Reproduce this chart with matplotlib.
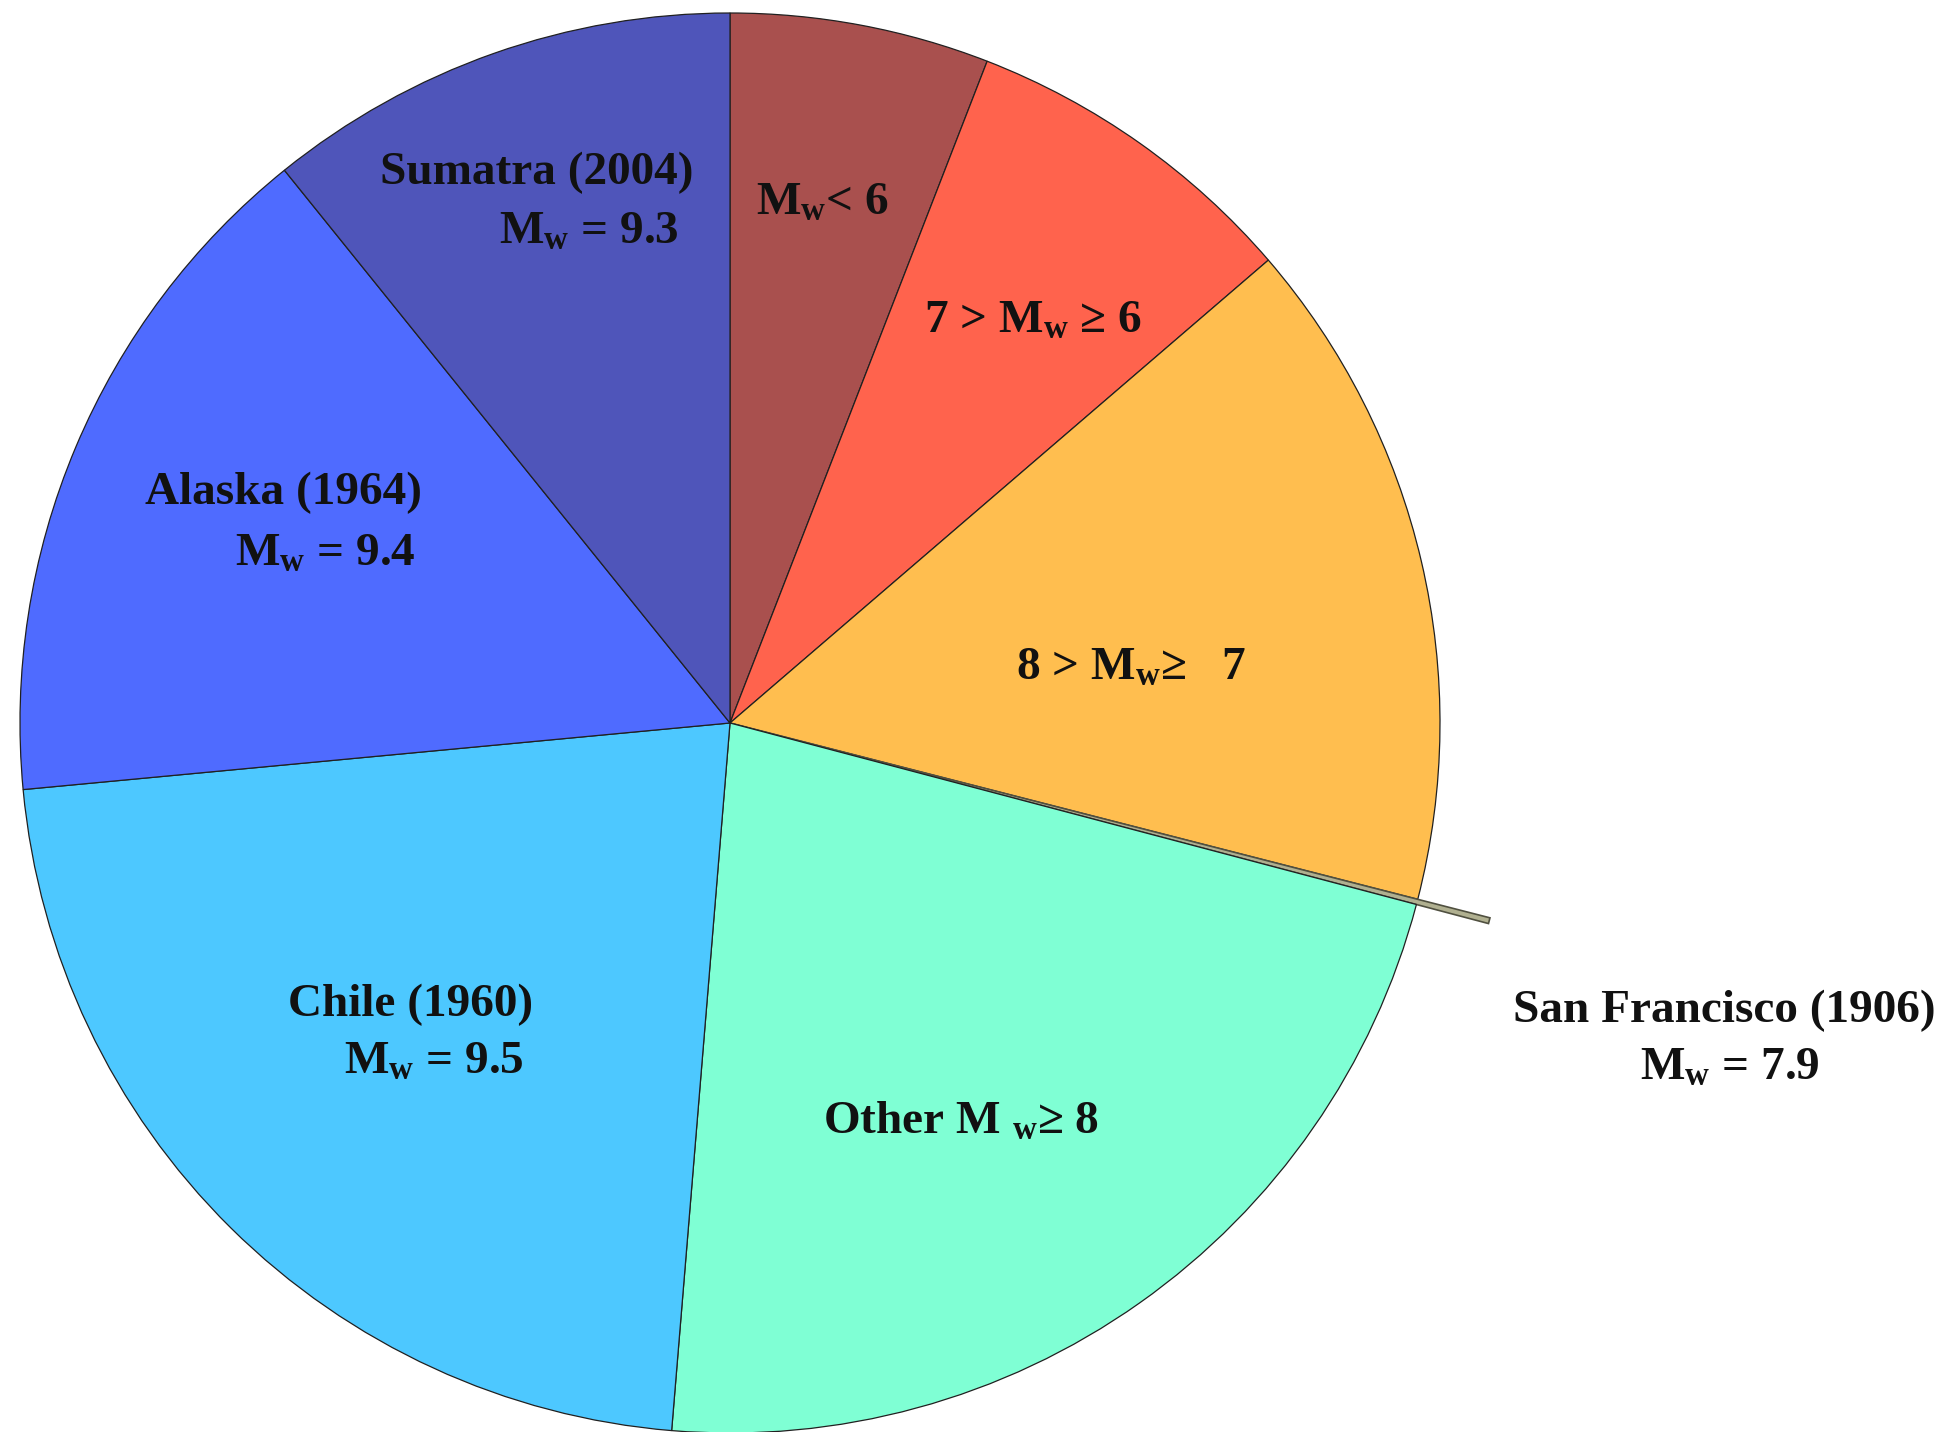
import matplotlib
matplotlib.use("Agg")
import matplotlib.pyplot as plt

plt.rcParams['font.family'] = ['Liberation Serif', 'DejaVu Serif']
plt.rcParams['font.weight'] = 'bold'
plt.rcParams['mathtext.fontset'] = 'custom'
plt.rcParams['mathtext.rm'] = 'Liberation Serif:bold'
plt.rcParams['mathtext.bf'] = 'Liberation Serif:bold'
plt.rcParams['mathtext.it'] = 'Liberation Serif:bold'

# share of seismic moment (percent), clockwise from 12 o'clock
labels = ["Mw<6", "7>Mw>=6", "8>Mw>=7", "San Francisco (1906)",
          "Other Mw>=8", "Chile (1960)", "Alaska (1964)", "Sumatra (2004)"]
shares = [5.9, 7.8, 15.3, 0.12, 22.2, 22.2, 15.7, 10.8]
colors = ["#A9504E", "#FF634D", "#FFBE4F", "#B0B090",
          "#7FFFD4", "#4DC8FF", "#4F6BFF", "#4F55BA"]

W, H = 1952, 1432
cx, cy, R = 730, 723, 710

fig = plt.figure(figsize=(W / 100, H / 100), dpi=100)
ax = fig.add_axes([0, 0, 1, 1])

wedges, _ = ax.pie(shares, colors=colors, startangle=90, counterclock=False,
                   radius=1.0, wedgeprops=dict(edgecolor='#202020', linewidth=0.9))
# the San Francisco sliver pokes out past the rim
wedges[3].set_radius(1.105)
wedges[3].set_edgecolor('#505040')
wedges[3].set_linewidth(1.2)

ax.set_xlim(-cx / R, (W - cx) / R)
ax.set_ylim(-(H - cy) / R, cy / R)
ax.set_aspect('equal')
ax.axis('off')


def px(x, y):
    return (x - cx) / R, (cy - y) / R


sub = r'$_{\mathrm{w}}$'
texts = [
    ("Sumatra (2004)", 537, 184),
    ("M" + sub + " = 9.3", 589, 244),
    ("M" + sub + "< 6", 822, 215),
    ("7 > M" + sub + " \u2265 6", 1033, 333),
    ("8 > M" + sub + "\u2265   7", 1131, 680),
    ("Other M ${}_{\\mathrm{w}}$\u2265 8", 961, 1134),
    ("Chile (1960)", 411, 1016),
    ("M" + sub + " = 9.5", 434, 1074),
    ("Alaska (1964)", 284, 504),
    ("M" + sub + " = 9.4", 325, 566),
    ("San Francisco (1906)", 1724, 1022),
    ("M" + sub + " = 7.9", 1730, 1080),
]
for s, x, y in texts:
    tx, ty = px(x, y)
    ax.text(tx, ty, s, ha='center', va='baseline', fontsize=34,
            fontweight='bold', color='#111111')

fig.savefig("out.png", dpi=100)
